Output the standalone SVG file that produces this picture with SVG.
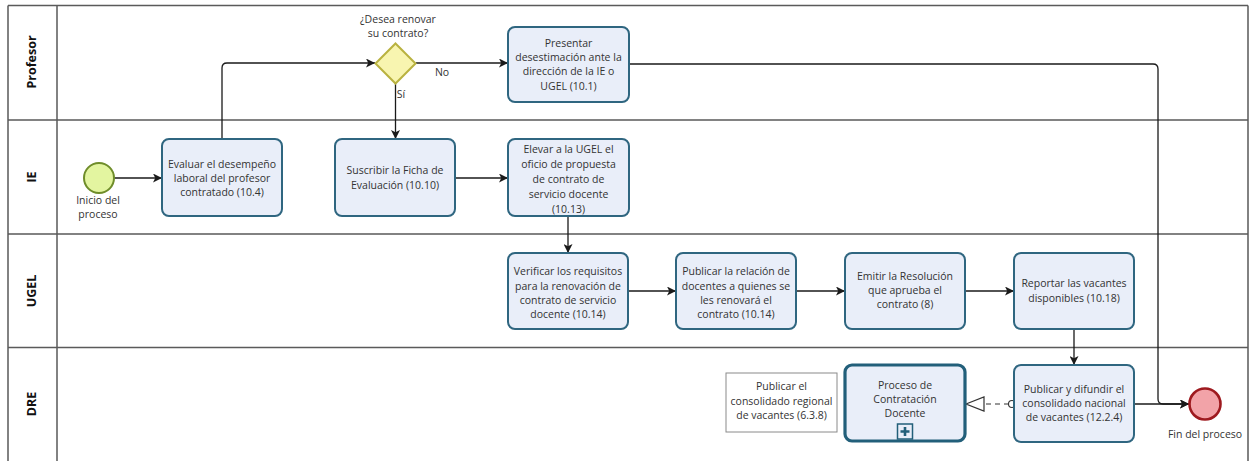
<svg xmlns="http://www.w3.org/2000/svg" width="1250" height="461" viewBox="0 0 1250 461">
<defs>
<style>
.lane{fill:none;stroke:#5a5a5a;stroke-width:1.5}
.lbl{font-family:"Open Sans","Liberation Sans",sans-serif;font-size:12.5px;font-weight:bold;fill:#111;text-anchor:middle}
.task{fill:#e9eef9;stroke:#2f6680;stroke-width:2}
.sub{fill:#e9eef9;stroke:#225f7a;stroke-width:3.2}
.t{font-family:"Open Sans","Liberation Sans",sans-serif;font-size:10.5px;fill:#333;text-anchor:middle}
.flow{fill:none;stroke:#1a1a1a;stroke-width:1.3}
.msg{fill:none;stroke:#333;stroke-width:1.2;stroke-dasharray:5,4}
</style>
<marker id="arr" viewBox="0 0 10 10" refX="10" refY="5" markerWidth="9" markerHeight="9" markerUnits="userSpaceOnUse" orient="auto">
<path d="M0,0 L10,5 L0,10 L2.5,5 z" fill="#1a1a1a"/>
</marker>
</defs>
<rect width="1250" height="461" fill="#ffffff"/>
<g id="pool">
<path class="lane" d="M8,5.5 H1248 M8,5.5 V461 M57,5.5 V461 M8,120 H1248 M8,234 H1248 M8,347.5 H1248 M1248,5.5 V461"/>
<text class="lbl" transform="translate(36,62) rotate(-90)">Profesor</text>
<text class="lbl" transform="translate(36,177) rotate(-90)">IE</text>
<text class="lbl" transform="translate(36,291) rotate(-90)">UGEL</text>
<text class="lbl" transform="translate(36,404) rotate(-90)">DRE</text>
</g>
<g id="connectors">
<path class="flow" d="M114,178 H162" marker-end="url(#arr)"/>
<path class="flow" d="M222,139 V68 Q222,63 227,63 H375" marker-end="url(#arr)"/>
<path class="flow" d="M416,63 H508" marker-end="url(#arr)"/>
<path class="flow" d="M395.5,83 V139" marker-end="url(#arr)"/>
<path class="flow" d="M455,178 H508" marker-end="url(#arr)"/>
<path class="flow" d="M568,216 V253" marker-end="url(#arr)"/>
<path class="flow" d="M628,291 H676" marker-end="url(#arr)"/>
<path class="flow" d="M796,291 H845" marker-end="url(#arr)"/>
<path class="flow" d="M965,291 H1014" marker-end="url(#arr)"/>
<path class="flow" d="M1074,329 V365" marker-end="url(#arr)"/>
<path class="flow" d="M629,64 H1153 Q1158,64 1158,69 V399 Q1158,404 1163,404 H1189" marker-end="url(#arr)"/>
<path class="flow" d="M1134,404 H1189" marker-end="url(#arr)"/>
<path class="msg" d="M1009,404 H980"/>
<path d="M966,404 L984,397 L984,411 z" fill="#fff" stroke="#333" stroke-width="1.2"/>
<circle cx="1012" cy="404" r="3.5" fill="#fff" stroke="#333" stroke-width="1.1"/>
<text class="t" x="442" y="76" text-anchor="start">No</text>
<text class="t" x="401" y="98" text-anchor="start">Sí</text>
</g>
<g id="start">
<circle cx="99" cy="178" r="15" fill="#e3f5a0" stroke="#6f8d2a" stroke-width="2"/>
<text class="t" x="98" y="204">Inicio del</text>
<text class="t" x="98" y="218">proceso</text>
</g>
<g id="evaluar">
<rect class="task" x="162" y="139" width="120" height="77" rx="7"/>
<text class="t" x="222" y="168">Evaluar el desempeño</text>
<text class="t" x="222" y="182">laboral del profesor</text>
<text class="t" x="222" y="196">contratado (10.4)</text>
</g>
<g id="gateway">
<path d="M395.5,43.5 L415.5,63.5 L395.5,83.5 L375.5,63.5 z" fill="#f8f5b0" stroke="#b9b240" stroke-width="2"/>
<text class="t" x="398" y="23">¿Desea renovar</text>
<text class="t" x="398" y="37">su contrato?</text>
</g>
<g id="presentar">
<rect class="task" x="508" y="27" width="121" height="75" rx="7"/>
<text class="t" x="568.5" y="47">Presentar</text>
<text class="t" x="568.5" y="61">desestimación ante la</text>
<text class="t" x="568.5" y="75">dirección de la IE o</text>
<text class="t" x="568.5" y="90">UGEL (10.1)</text>
</g>
<g id="suscribir">
<rect class="task" x="335" y="139" width="120" height="77" rx="7"/>
<text class="t" x="395" y="174">Suscribir la Ficha de</text>
<text class="t" x="395" y="189">Evaluación (10.10)</text>
</g>
<g id="elevar">
<rect class="task" x="508" y="139" width="121" height="77" rx="7"/>
<text class="t" x="568.5" y="153">Elevar a la UGEL el</text>
<text class="t" x="568.5" y="168">oficio de propuesta</text>
<text class="t" x="568.5" y="183">de contrato de</text>
<text class="t" x="568.5" y="198">servicio docente</text>
<text class="t" x="568.5" y="213">(10.13)</text>
</g>
<g id="verificar">
<rect class="task" x="508" y="253" width="120" height="76" rx="7"/>
<text class="t" x="568" y="275">Verificar los requisitos</text>
<text class="t" x="568" y="290">para la renovación de</text>
<text class="t" x="568" y="304">contrato de servicio</text>
<text class="t" x="568" y="318">docente  (10.14)</text>
</g>
<g id="publicar-relacion">
<rect class="task" x="676" y="253" width="120" height="76" rx="7"/>
<text class="t" x="736" y="275">Publicar la relación de</text>
<text class="t" x="736" y="290">docentes a quienes se</text>
<text class="t" x="736" y="304">les renovará el</text>
<text class="t" x="736" y="318">contrato (10.14)</text>
</g>
<g id="emitir">
<rect class="task" x="845" y="253" width="120" height="76" rx="7"/>
<text class="t" x="905" y="280">Emitir la Resolución</text>
<text class="t" x="905" y="294">que aprueba el</text>
<text class="t" x="905" y="308">contrato (8)</text>
</g>
<g id="reportar">
<rect class="task" x="1014" y="253" width="120" height="76" rx="7"/>
<text class="t" x="1074" y="287">Reportar las vacantes</text>
<text class="t" x="1074" y="302">disponibles (10.18)</text>
</g>
<g id="anotacion">
<rect x="726" y="373" width="111" height="59" fill="#fff" stroke="#8a8a8a" stroke-width="1"/>
<text class="t" x="781.5" y="390">Publicar el</text>
<text class="t" x="781.5" y="405">consolidado regional</text>
<text class="t" x="781.5" y="419">de vacantes (6.3.8)</text>
</g>
<g id="subproceso">
<rect class="sub" x="845" y="365" width="120" height="76" rx="7"/>
<text class="t" x="905" y="389">Proceso de</text>
<text class="t" x="905" y="403">Contratación</text>
<text class="t" x="905" y="417">Docente</text>
<rect x="897.5" y="424" width="15" height="15" fill="#e9eef9" stroke="#225f7a" stroke-width="1.5"/>
<path d="M905,427 V436 M900.5,431.5 H909.5" stroke="#225f7a" stroke-width="2.6"/>
</g>
<g id="publicar-difundir">
<rect class="task" x="1014" y="365" width="120" height="77" rx="7"/>
<text class="t" x="1074" y="393">Publicar y difundir el</text>
<text class="t" x="1074" y="407">consolidado nacional</text>
<text class="t" x="1074" y="421">de vacantes (12.2.4)</text>
</g>
<g id="fin">
<circle cx="1205" cy="404" r="15.5" fill="#f2a3a8" stroke="#9e1a1f" stroke-width="2.6"/>
<text class="t" x="1205" y="438">Fin del proceso</text>
</g>
</svg>
